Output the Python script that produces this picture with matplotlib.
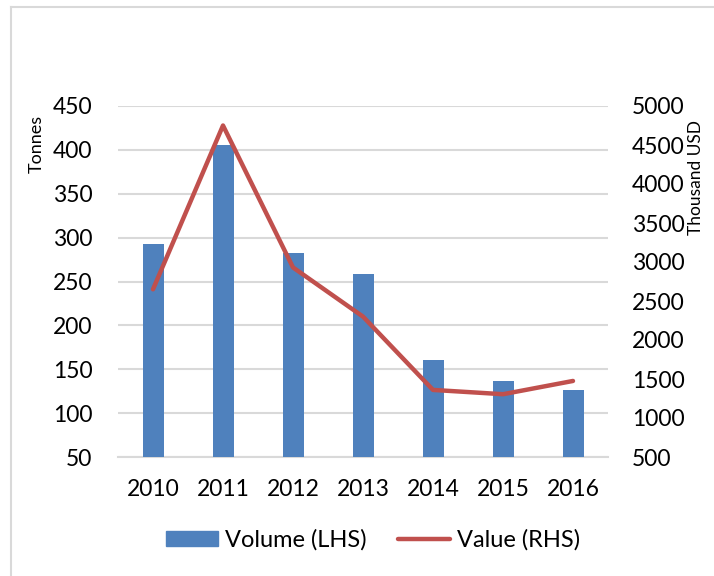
import matplotlib.pyplot as plt
from matplotlib.lines import Line2D
import numpy as np

plt.rcParams['font.family'] = ['Lato', 'DejaVu Sans']

# data
years = ['2010', '2011', '2012', '2013', '2014', '2015', '2016']
volume = [293, 405, 283, 258, 161, 137, 126]        # tonnes (LHS)
value = [2650, 4750, 2930, 2300, 1360, 1305, 1475]  # thousand USD (RHS)

blue = '#4f81bd'
red = '#c0504d'
grid = '#d9d9d9'

fig = plt.figure(figsize=(7.14, 5.76), dpi=100)
ax = fig.add_axes([118 / 714, 1 - 457 / 576, 490 / 714, 351 / 576])
ax2 = ax.twinx()

x = np.arange(len(years))
ax.bar(x, volume, width=0.3, color=blue, zorder=3)
ax.set_ylim(50, 450)
ax.set_yticks(range(50, 451, 50))
ax.set_xlim(-0.5, len(years) - 0.5)
ax.set_xticks(x)
ax.set_xticklabels(years)
ax.yaxis.grid(True, color=grid, linewidth=1.5, zorder=0)
ax.set_axisbelow(True)

ax2.plot(x, value, color=red, linewidth=3.2, solid_capstyle='round', zorder=4)
ax2.set_ylim(500, 5000)
ax2.set_yticks(range(500, 5001, 500))

for a in (ax, ax2):
    for s in a.spines.values():
        s.set_visible(False)
    a.tick_params(length=0, labelsize=16.5, colors='black')
ax.tick_params(axis='y', pad=18.5)
ax.tick_params(axis='x', pad=16)
ax2.tick_params(axis='y', pad=17)
ax.spines['bottom'].set_visible(True)
ax.spines['bottom'].set_color(grid)
ax.spines['bottom'].set_linewidth(1.5)

fig.text(37 / 714, 1 - 144 / 576, 'Tonnes', rotation=90, ha='center', va='center', fontsize=13)
fig.text(696 / 714, 1 - 177 / 576, 'Thousand USD', rotation=90, ha='center', va='center', fontsize=12.5)

handles = [plt.Rectangle((0, 0), 1, 1, color=blue),
           Line2D([0], [0], color=red, linewidth=3.2, solid_capstyle='round')]
fig.legend(handles, ['Volume (LHS)', 'Value (RHS)'], loc='center',
           bbox_to_anchor=(373 / 714, 1 - 540 / 576), ncol=2, frameon=False,
           fontsize=17, handlelength=2.2, handleheight=0.6,
           handletextpad=0.3, columnspacing=1.3)

# chart-area border (top and left edges visible)
fig.add_artist(Line2D([11.5 / 714, 11.5 / 714], [0, 1 - 7 / 576], color=grid, linewidth=1.5,
                      transform=fig.transFigure))
fig.add_artist(Line2D([11.5 / 714, 1], [1 - 7 / 576, 1 - 7 / 576], color=grid, linewidth=1.5,
                      transform=fig.transFigure))

fig.savefig('out.png', dpi=100)
